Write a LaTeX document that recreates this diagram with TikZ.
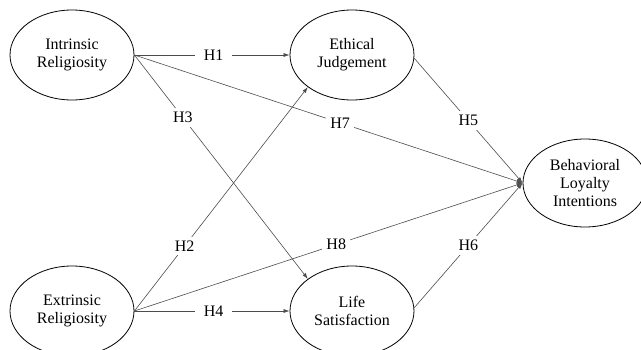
\documentclass[tikz,border=0pt]{standalone}
\usepackage{fontspec}
\setmainfont{Liberation Serif}
\usetikzlibrary{arrows.meta,shapes.geometric}
\begin{document}
\begin{tikzpicture}[x=1pt,y=1pt,
  var/.style={ellipse,draw=black,line width=0.8pt,minimum width=124pt,minimum height=90pt,inner sep=0pt,align=center,font=\fontsize{16}{18}\selectfont},
  conn/.style={draw=black!70,line width=0.6pt,-{Latex[length=6pt,width=4pt]}},
  lbl/.style={fill=white,inner sep=4pt,font=\fontsize{16}{18}\selectfont}]
\useasboundingbox (0,0) rectangle (641,-350);
\clip (0,0) rectangle (641,-350);
\node[var] (intr) at (72,-55) {Intrinsic\\Religiosity};
\node[var] (extr) at (72,-311) {Extrinsic\\Religiosity};
\node[var] (eth) at (352,-55) {Ethical\\Judgement};
\node[var] (life) at (352,-311) {Life\\Satisfaction};
\node[var,minimum width=124pt,minimum height=88pt] (beh) at (585,-183) {Behavioral\\Loyalty\\Intentions};
\draw[conn] (intr.east) -- node[lbl,pos=0.51,inner xsep=9pt] {H1} (eth.west);
\draw[conn] (intr.east) -- node[lbl,pos=0.28] {H3} (life.144);
\draw[conn] (intr.east) -- node[lbl,pos=0.53] {H7} (beh.west);
\draw[conn] (extr.east) -- node[lbl,pos=0.29] {H2} (eth.216);
\draw[conn] (extr.east) -- node[lbl,pos=0.52] {H8} (beh.west);
\draw[conn] (extr.east) -- node[lbl,pos=0.51,inner xsep=9pt] {H4} (life.west);
\draw[conn] (eth.-3) -- node[lbl,pos=0.5] {H5} (beh.west);
\draw[conn] (life.3) -- node[lbl,pos=0.5] {H6} (beh.west);
\end{tikzpicture}
\end{document}
